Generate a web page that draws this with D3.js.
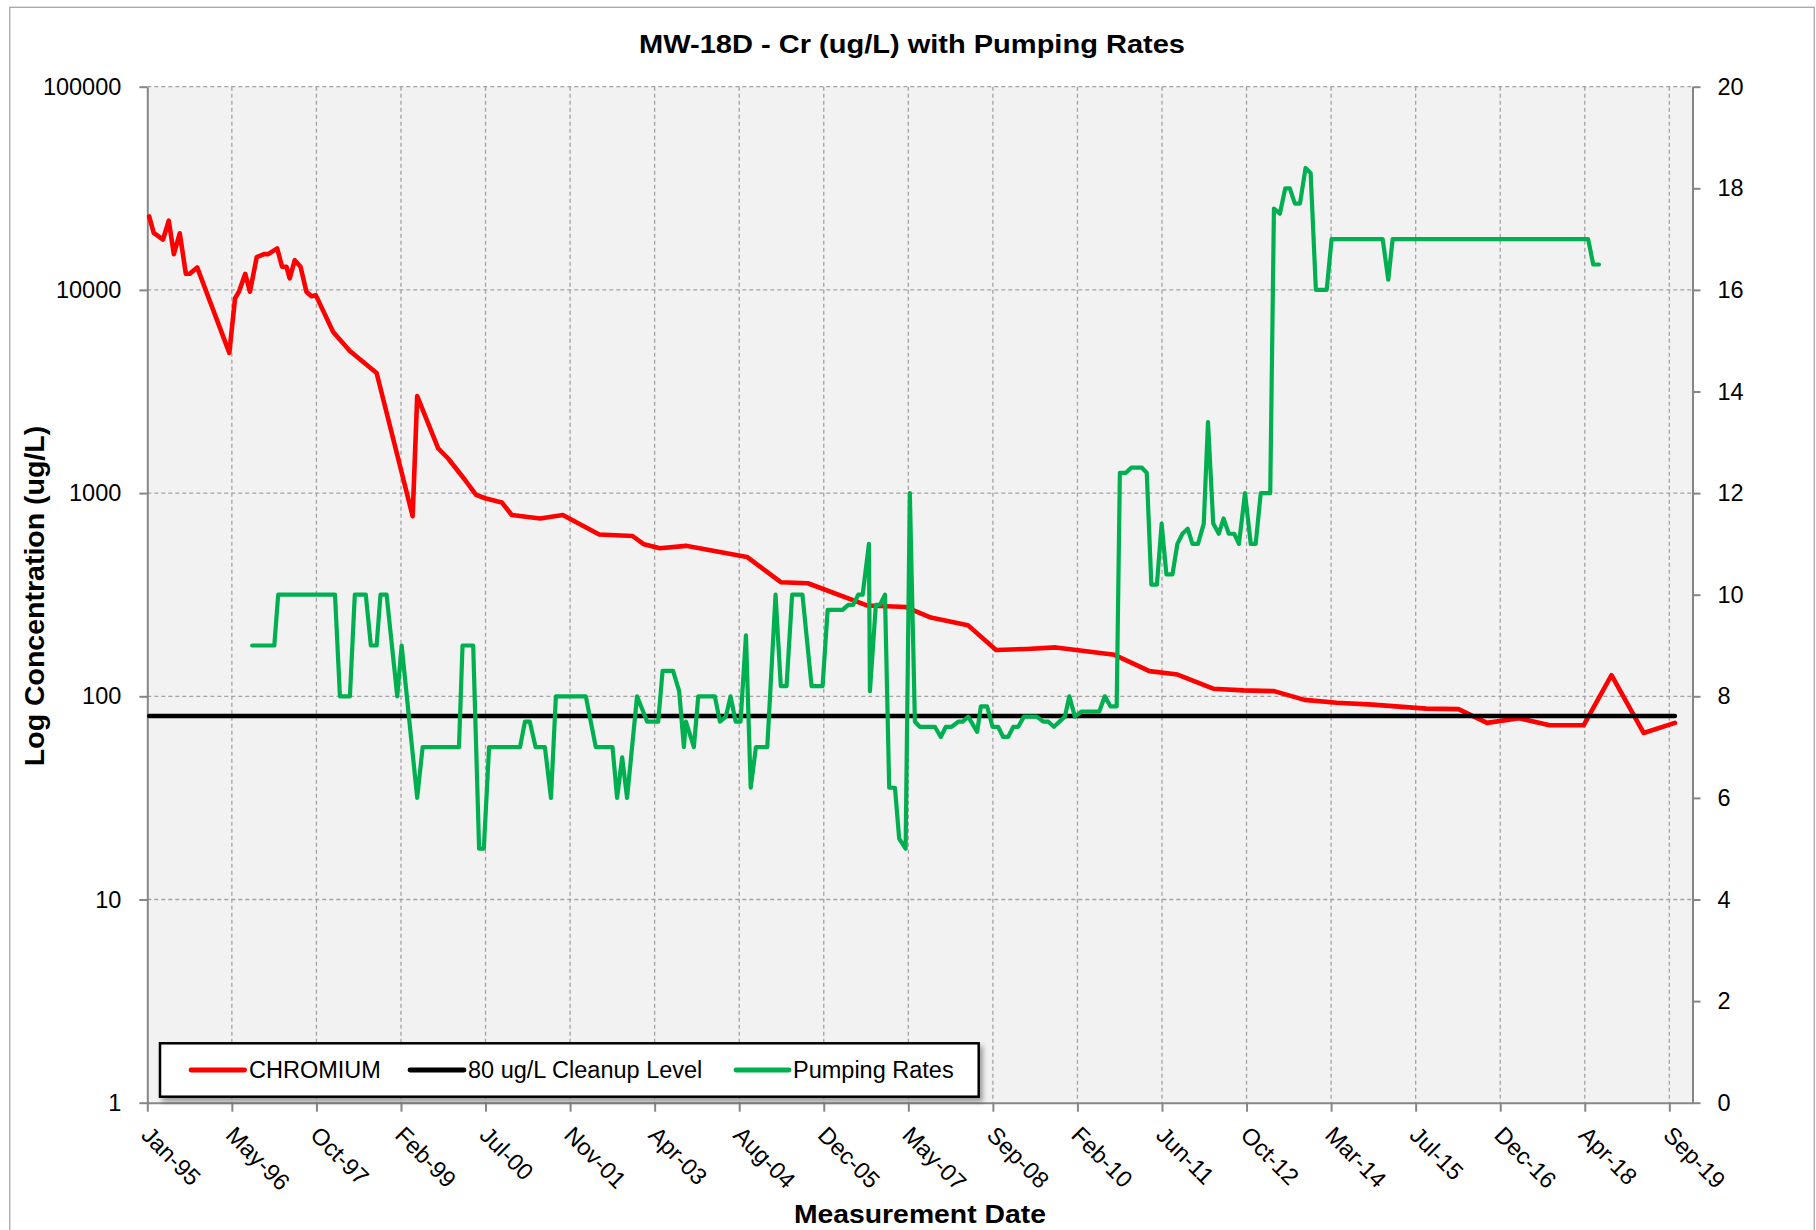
<!DOCTYPE html>
<html>
<head>
<meta charset="utf-8">
<script src="https://cdn.jsdelivr.net/npm/d3@7"></script>
<style>
  body { margin: 0; background: #fff; }
  svg text { font-family: "Liberation Sans", Arial, sans-serif; fill: #000; }
</style>
</head>
<body>
<svg id="chart" width="1816" height="1230"></svg>
<script>
// ---- Data -------------------------------------------------------------
const chromiumDates = ["1995-01-24","1995-02-20","1995-04-16","1995-05-20","1995-06-19","1995-07-24","1995-08-29","1995-09-21","1995-11-04",
  "1996-05-12","1996-06-15","1996-07-08","1996-08-14","1996-09-11","1996-10-21","1996-12-03","1996-12-28",
  "1997-02-19","1997-03-20","1997-04-15","1997-05-04","1997-06-03","1997-07-07","1997-08-11","1997-09-10","1997-10-06",
  "1998-01-16","1998-04-25","1998-09-30","1999-05-01","1999-05-28","1999-09-29","1999-11-27",
  "2000-03-06","2000-05-10","2000-07-03","2000-10-09","2000-12-07","2001-05-24","2001-10-05","2002-05-08","2002-11-21",
  "2003-01-28","2003-05-02","2003-10-03","2004-09-28","2005-04-18","2005-09-23","2006-09-07","2007-04-26","2007-09-20",
  "2008-04-26","2008-10-10","2009-04-09","2009-09-29","2010-09-10","2011-04-05","2011-09-18","2012-04-16","2012-10-13",
  "2013-04-11","2013-10-08","2014-04-16","2014-11-14","2015-09-27","2016-04-05","2016-09-21","2017-03-30","2017-09-26",
  "2018-04-15","2018-09-27","2019-04-05","2019-10-07"];
const chromiumValues = [23000,19100,17700,21900,15000,19000,12000,12000,12900,
  4900,9100,9800,12000,9800,14500,15000,15000,
  16000,13000,13000,11400,14000,13000,9800,9300,9400,
  6200,5000,3900,770,3000,1660,1480,
  1160,980,943,900,780,750,780,625,615,
  560,535,550,485,364,360,280,275,244,
  224,169,171,174,160,133,128,109,107,
  106,96,93,91,87,86.5,74,78,72,
  72,127,66,74];

const cleanupLevel = 80;

const pumpDates = ["1996-09-24","1997-02-02","1997-02-25",
  "1998-01-27","1998-02-25","1998-04-25","1998-05-24","1998-07-28","1998-08-27","1998-09-30","1998-10-23","1998-11-28",
  "1999-01-30","1999-02-25","1999-05-28","1999-06-29",
  "2000-01-30","2000-02-20","2000-04-23","2000-05-28","2000-06-25","2000-07-26",
  "2001-01-25","2001-02-23","2001-03-24","2001-04-27","2001-06-21","2001-07-27","2001-08-25",
  "2002-02-18","2002-04-18","2002-07-26","2002-08-22","2002-09-21","2002-10-20","2002-12-18",
  "2003-02-16","2003-04-22","2003-05-18","2003-07-19","2003-08-24","2003-09-21","2003-10-03","2003-11-19","2003-12-15",
  "2004-03-22","2004-04-21","2004-05-26","2004-06-23","2004-07-23","2004-08-21","2004-09-22","2004-10-20","2004-11-20",
  "2005-01-26","2005-03-16","2005-04-16","2005-05-20","2005-06-22","2005-08-22","2005-10-15","2005-12-19",
  "2006-01-18","2006-04-16","2006-05-20","2006-06-18","2006-07-18","2006-08-13","2006-09-19","2006-09-25","2006-10-30","2006-11-23","2006-12-23",
  "2007-01-17","2007-02-20","2007-03-17","2007-04-24","2007-05-19","2007-06-18","2007-07-17","2007-10-14","2007-11-18","2007-12-18",
  "2008-01-21","2008-03-01","2008-03-26","2008-04-28","2008-06-20","2008-07-12","2008-08-18","2008-09-19","2008-10-22","2008-11-21","2008-12-20",
  "2009-01-20","2009-02-18","2009-03-24","2009-06-07","2009-07-16","2009-08-15","2009-09-17","2009-11-21","2009-12-17",
  "2010-01-19","2010-02-28","2010-06-12","2010-07-15","2010-08-18","2010-09-23","2010-10-12","2010-11-17","2010-12-18",
  "2011-02-19","2011-03-20","2011-04-16","2011-05-19","2011-06-16","2011-07-14","2011-08-19","2011-09-17","2011-10-17","2011-11-17","2011-12-15",
  "2012-01-17","2012-02-20","2012-03-16","2012-04-16","2012-05-19","2012-06-16","2012-07-17","2012-08-18","2012-09-15","2012-10-21","2012-11-24","2012-12-23",
  "2013-01-22","2013-03-19","2013-04-10","2013-05-15","2013-06-16","2013-07-13","2013-08-12","2013-09-11","2013-10-14","2013-11-13","2013-12-14",
  "2014-02-16","2014-03-17","2015-01-13","2015-02-15","2015-03-13","2018-05-12","2018-06-11","2018-07-15"];
const pumpRates = [9,9,10,
  10,8,8,10,10,9,9,10,10,
  8,9,6,7,
  7,9,9,5,5,7,
  7,7.5,7.5,7,7,6,8,
  8,7,7,6,6.8,6,8,
  7.5,7.5,8.5,8.5,8.1,7,7.5,7,8,
  8,7.5,7.6,8,7.5,7.5,9.2,6.2,7,
  7,10,8.2,8.2,10,10,8.2,8.2,
  9.7,9.7,9.8,9.8,10,10,11,8.1,9.8,9.8,10,
  6.2,6.2,5.2,5,12,7.5,7.4,7.4,7.2,7.4,
  7.4,7.5,7.5,7.6,7.3,7.8,7.8,7.4,7.4,7.2,7.2,
  7.4,7.4,7.6,7.6,7.5,7.5,7.4,7.6,8,
  7.6,7.7,7.7,8,7.8,7.8,12.4,12.4,12.5,
  12.5,12.4,10.2,10.2,11.4,10.4,10.4,11,11.2,11.3,11,
  11,11.4,13.4,11.4,11.2,11.5,11.2,11.2,11,12,11,11,
  12,12,17.6,17.5,18,18,17.7,17.7,18.4,18.3,16,
  16,17,17,16.2,17,17,16.5,16.5];

const xTickLabels = ["Jan-95","May-96","Oct-97","Feb-99","Jul-00","Nov-01","Apr-03","Aug-04","Dec-05","May-07",
  "Sep-08","Feb-10","Jun-11","Oct-12","Mar-14","Jul-15","Dec-16","Apr-18","Sep-19"];
const leftTicks = [1, 10, 100, 1000, 10000, 100000];
const rightTicks = [0, 2, 4, 6, 8, 10, 12, 14, 16, 18, 20];
const legendLabels = ["CHROMIUM", "80 ug/L Cleanup Level", "Pumping Rates"];

// ---- Layout -----------------------------------------------------------
const plot = { left: 147.3, right: 1692.5, top: 86.7, bottom: 1102.7 };
const colors = { cr: "#ff0000", cleanup: "#000000", pump: "#00b050", axis: "#868686", grid: "#a3a3a3" };

const parse = d3.timeParse("%Y-%m-%d");
const axisStart = new Date(1995, 0, 13);
const tickStepDays = 500;
const axisEnd = d3.timeDay.offset(axisStart, 9137);
const tickDates = xTickLabels.map((_, i) => d3.timeDay.offset(axisStart, i * tickStepDays));

const x = d3.scaleTime().domain([axisStart, axisEnd]).range([plot.left, plot.right]);
const yL = d3.scaleLog().domain([1, 100000]).range([plot.bottom, plot.top]);
const yR = d3.scaleLinear().domain([0, 20]).range([plot.bottom, plot.top]);

const crData = chromiumDates.map((d, i) => ({ date: parse(d), value: chromiumValues[i] }));
const cleanupData = [crData[0].date, crData[crData.length - 1].date].map(d => ({ date: d, value: cleanupLevel }));
const pumpData = pumpDates.map((d, i) => ({ date: parse(d), value: pumpRates[i] }));

const svg = d3.select("#chart");

// drop shadow for the legend box
const defs = svg.append("defs");
const shadow = defs.append("filter").attr("id", "legendShadow")
  .attr("x", "-5%").attr("y", "-20%").attr("width", "115%").attr("height", "160%");
shadow.append("feDropShadow").attr("dx", 3).attr("dy", 4).attr("stdDeviation", 2.5)
  .attr("flood-color", "#000").attr("flood-opacity", 0.35);

// chart frame
svg.append("rect").attr("x", 9.8).attr("y", 7.3).attr("width", 1804.4).attr("height", 1240)
  .attr("fill", "#fff").attr("stroke", "#a0a0a0").attr("stroke-width", 1.2);

// plot area
svg.append("rect").attr("x", plot.left).attr("y", plot.top)
  .attr("width", plot.right - plot.left).attr("height", plot.bottom - plot.top)
  .attr("fill", "#f2f2f2");

// gridlines
const grid = svg.append("g").attr("stroke", colors.grid).attr("stroke-width", 1.3).attr("stroke-dasharray", "4,3");
grid.selectAll("line.h").data(leftTicks.slice(1)).join("line")
  .attr("x1", plot.left).attr("x2", plot.right)
  .attr("y1", d => yL(d)).attr("y2", d => yL(d));
grid.selectAll("line.v").data(tickDates.slice(1)).join("line")
  .attr("x1", d => x(d)).attr("x2", d => x(d))
  .attr("y1", plot.top).attr("y2", plot.bottom);

// axes
function styleAxis(g) {
  g.select(".domain").attr("stroke", colors.axis).attr("stroke-width", 2);
  g.selectAll(".tick line").attr("stroke", colors.axis).attr("stroke-width", 2);
  g.selectAll(".tick text").attr("font-size", "23.5px").attr("fill", "#000");
}

svg.append("g").attr("transform", `translate(${plot.left},0)`)
  .call(d3.axisLeft(yL).tickValues(leftTicks).tickFormat(d3.format("d")).tickSize(8).tickSizeOuter(0).tickPadding(18))
  .call(styleAxis);

svg.append("g").attr("transform", `translate(${plot.right},0)`)
  .call(d3.axisRight(yR).tickValues(rightTicks).tickFormat(d3.format("d")).tickSize(8).tickSizeOuter(0).tickPadding(17))
  .call(styleAxis);

const xAxisG = svg.append("g").attr("transform", `translate(0,${plot.bottom})`)
  .call(d3.axisBottom(x).tickValues(tickDates).tickFormat((d, i) => xTickLabels[i]).tickSize(9).tickSizeOuter(0))
  .call(styleAxis);
xAxisG.selectAll(".tick text")
  .attr("x", 0).attr("y", 0).attr("dy", "0.35em")
  .attr("text-anchor", "start")
  .attr("transform", "translate(-2,28) rotate(45)");

// series
const lineCr = d3.line().x(d => x(d.date)).y(d => yL(d.value));
const linePump = d3.line().x(d => x(d.date)).y(d => yR(d.value));

svg.append("path").datum(crData).attr("d", lineCr)
  .attr("fill", "none").attr("stroke", colors.cr).attr("stroke-width", 4.6)
  .attr("stroke-linejoin", "round").attr("stroke-linecap", "round");
svg.append("path").datum(cleanupData).attr("d", lineCr)
  .attr("fill", "none").attr("stroke", colors.cleanup).attr("stroke-width", 4.4)
  .attr("stroke-linecap", "round");
svg.append("path").datum(pumpData).attr("d", linePump)
  .attr("fill", "none").attr("stroke", colors.pump).attr("stroke-width", 4.2)
  .attr("stroke-linejoin", "round").attr("stroke-linecap", "round");

// titles
svg.append("text").attr("x", 912).attr("y", 53.3).attr("text-anchor", "middle")
  .attr("font-size", "26.5px").attr("font-weight", "bold")
  .attr("textLength", 546).attr("lengthAdjust", "spacingAndGlyphs")
  .text("MW-18D - Cr (ug/L) with Pumping Rates");
svg.append("text").attr("transform", "translate(43.5,596) rotate(-90)").attr("text-anchor", "middle")
  .attr("font-size", "28.5px").attr("font-weight", "bold")
  .text("Log Concentration (ug/L)");
svg.append("text").attr("x", (plot.left + plot.right) / 2).attr("y", 1222.5).attr("text-anchor", "middle")
  .attr("font-size", "26.5px").attr("font-weight", "bold")
  .attr("textLength", 252).attr("lengthAdjust", "spacingAndGlyphs")
  .text("Measurement Date");

// legend
const legend = svg.append("g");
legend.append("rect").attr("x", 160).attr("y", 1043.3).attr("width", 818.7).attr("height", 53.4)
  .attr("fill", "#fff").attr("stroke", "#000").attr("stroke-width", 2.5)
  .attr("filter", "url(#legendShadow)");
const legendItems = [
  { label: legendLabels[0], color: colors.cr, x1: 191, x2: 244.6, tx: 249 },
  { label: legendLabels[1], color: colors.cleanup, x1: 410, x2: 464, tx: 468 },
  { label: legendLabels[2], color: colors.pump, x1: 736, x2: 789, tx: 793 }
];
legendItems.forEach(it => {
  legend.append("line").attr("x1", it.x1).attr("x2", it.x2).attr("y1", 1070).attr("y2", 1070)
    .attr("stroke", it.color).attr("stroke-width", 4.8).attr("stroke-linecap", "round");
  legend.append("text").attr("x", it.tx).attr("y", 1078.3).attr("font-size", "23.5px").text(it.label);
});
</script>
</body>
</html>
